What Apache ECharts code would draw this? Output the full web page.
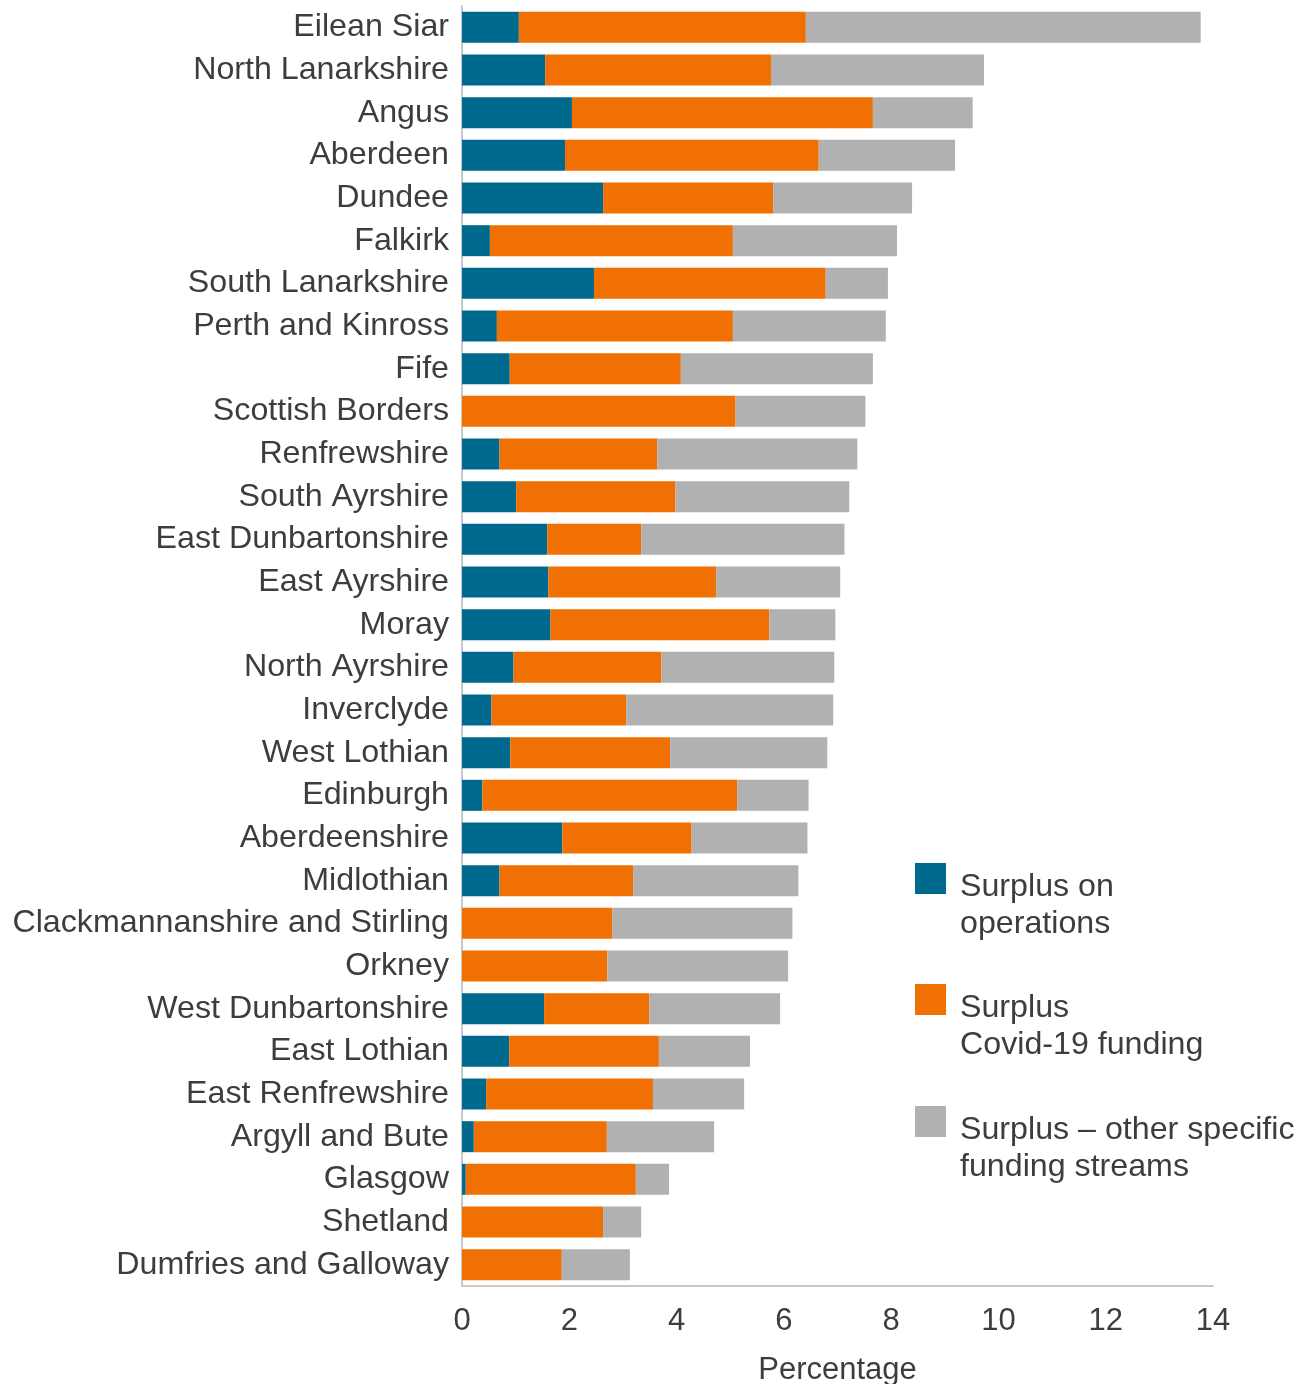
<!DOCTYPE html>
<html>
<head>
<meta charset="utf-8">
<script src="https://cdn.jsdelivr.net/npm/echarts@6/dist/echarts.min.js"></script>
<style>
  html, body { margin: 0; padding: 0; background: #fff; }
  #chart { width: 1306px; height: 1384px; }
</style>
</head>
<body>
<div id="chart"></div>
<script>
var regions = ['Eilean Siar', 'North Lanarkshire', 'Angus', 'Aberdeen', 'Dundee', 'Falkirk',
  'South Lanarkshire', 'Perth and Kinross', 'Fife', 'Scottish Borders', 'Renfrewshire',
  'South Ayrshire', 'East Dunbartonshire', 'East Ayrshire', 'Moray', 'North Ayrshire',
  'Inverclyde', 'West Lothian', 'Edinburgh', 'Aberdeenshire', 'Midlothian',
  'Clackmannanshire and Stirling', 'Orkney', 'West Dunbartonshire', 'East Lothian',
  'East Renfrewshire', 'Argyll and Bute', 'Glasgow', 'Shetland', 'Dumfries and Galloway'];

var operations = [1.06, 1.55, 2.05, 1.92, 2.63, 0.52, 2.46, 0.65, 0.89, 0, 0.70, 1.01, 1.59, 1.61,
  1.65, 0.96, 0.55, 0.90, 0.38, 1.87, 0.70, 0, 0, 1.53, 0.88, 0.45, 0.22, 0.07, 0, 0];
var covid = [5.35, 4.21, 5.61, 4.73, 3.17, 4.53, 4.32, 4.40, 3.19, 5.10, 2.94, 2.97, 1.75, 3.13,
  4.08, 2.76, 2.51, 2.98, 4.75, 2.41, 2.49, 2.80, 2.71, 1.96, 2.79, 3.11, 2.48, 3.17, 2.63, 1.86];
var other = [7.36, 3.97, 1.86, 2.54, 2.59, 3.06, 1.16, 2.85, 3.58, 2.42, 3.73, 3.24, 3.79, 2.31,
  1.23, 3.22, 3.86, 2.93, 1.33, 2.16, 3.08, 3.36, 3.37, 2.44, 1.70, 1.70, 2.00, 0.62, 0.71, 1.27];

var seriesNames = ['Surplus on operations', 'Surplus Covid-19 funding', 'Surplus \u2013 other specific funding streams'];
var legendLines = [
  ['Surplus on', 'operations'],
  ['Surplus', 'Covid-19 funding'],
  ['Surplus \u2013 other specific', 'funding streams']
];
var colors = ['#006a8e', '#f07004', '#b1b1b1'];
var xTicks = [0, 14, 2]; // min, max, interval

var font = '"Liberation Sans", Arial, sans-serif';
var textColor = '#3d3d3d';

var myChart = echarts.init(document.getElementById('chart'));

// blank first line pushes the two text lines down so the first one sits by the square
function makeLegend(i, top) {
  return {
    data: [seriesNames[i]],
    left: 915,
    top: top,
    padding: 0,
    icon: 'rect',
    itemWidth: 31,
    itemHeight: 31,
    selectedMode: false,
    formatter: function () {
      return '{s| }\n{t|' + legendLines[i][0] + '}\n{t|' + legendLines[i][1] + '}';
    },
    textStyle: {
      fontFamily: font,
      fontSize: 32.2,
      color: textColor,
      padding: [0, 0, 0, 9],
      rich: {
        s: { fontSize: 10, lineHeight: 54.5 },
        t: { fontFamily: font, fontSize: 32.2, lineHeight: 37.5, color: textColor }
      }
    }
  };
}

var option = {
  animation: false,
  color: colors,
  grid: { left: 462, right: 93, top: 6, bottom: 98, containLabel: false, outerBoundsMode: 'none' },
  legend: [makeLegend(0, 836), makeLegend(1, 957), makeLegend(2, 1079)],
  xAxis: {
    type: 'value',
    min: xTicks[0],
    max: xTicks[1],
    interval: xTicks[2],
    name: 'Percentage',
    nameLocation: 'middle',
    nameGap: 69,
    nameTextStyle: { fontFamily: font, fontSize: 31, color: textColor },
    axisLine: { show: true, lineStyle: { color: '#c8c8c8', width: 2 } },
    axisTick: { show: false },
    splitLine: { show: false },
    axisLabel: { fontFamily: font, fontSize: 31, color: textColor, margin: 20 }
  },
  yAxis: {
    type: 'category',
    inverse: true,
    data: regions,
    axisLine: { show: true, lineStyle: { color: '#c8c8c8', width: 2 } },
    axisTick: { show: false },
    axisLabel: { fontFamily: font, fontSize: 32.2, color: textColor, margin: 13, interval: 0, padding: [4, 0, 0, 0] }
  },
  series: [
    { name: seriesNames[0], type: 'bar', stack: 'total', barWidth: 31, data: operations },
    { name: seriesNames[1], type: 'bar', stack: 'total', barWidth: 31, data: covid },
    { name: seriesNames[2], type: 'bar', stack: 'total', barWidth: 31, data: other }
  ]
};
myChart.setOption(option);
</script>
</body>
</html>
